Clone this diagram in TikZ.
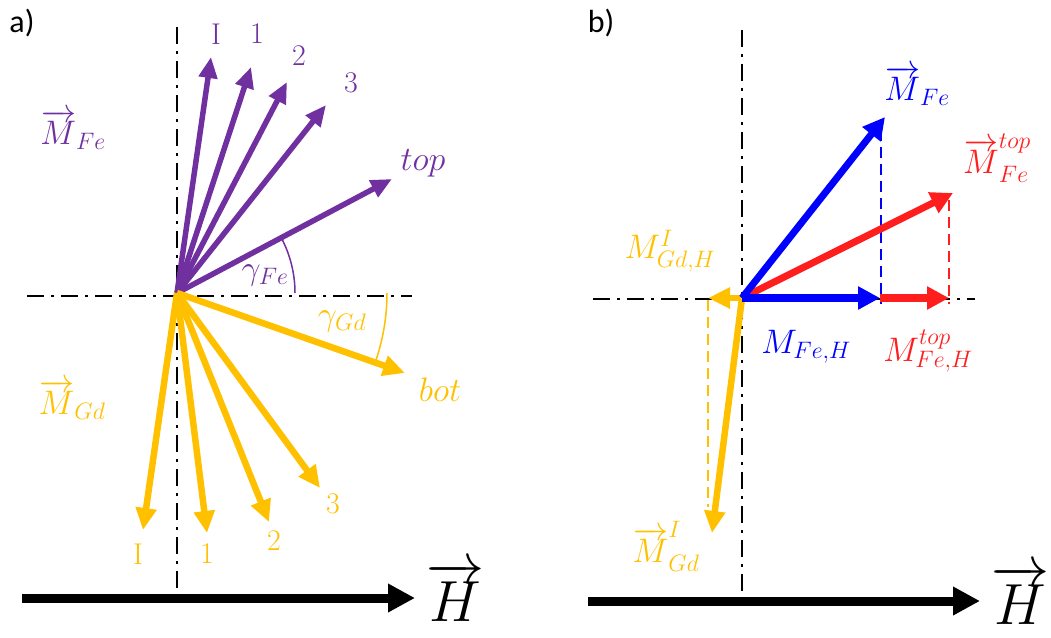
\documentclass[tikz,border=0pt]{standalone}
\usepackage{fix-cm}
\usepackage{fontspec}
\newfontfamily\panelfont{Carlito}
\usetikzlibrary{arrows.meta}
\definecolor{fepurple}{RGB}{112,48,160}
\definecolor{gdyellow}{RGB}{255,192,0}
\definecolor{feblue}{RGB}{0,0,255}
\definecolor{fered}{RGB}{255,30,30}
\begin{document}
\begin{tikzpicture}[x=1pt, y=-1pt,
  axisline/.style={line width=2.5pt, dash pattern=on 17pt off 7pt on 3pt off 7pt},
  field/.style={line width=9pt, -{Triangle[length=27pt,width=27pt]}},
  vecfe/.style={fepurple, line width=5.5pt, -{Triangle[length=21pt,width=18pt]}},
  vecgd/.style={gdyellow, line width=6.5pt, -{Triangle[length=22pt,width=20pt]}},
  vecb/.style={line width=7pt, -{Triangle[length=22pt,width=22pt]}},
  proj/.style={line width=2.5pt, dash pattern=on 11pt off 6pt},
  angarc/.style={line width=1.5pt},
  lbl/.style={font=\fontsize{34}{40}\selectfont},
  num/.style={font=\fontsize{30}{36}\selectfont},
  panel/.style={font=\panelfont\fontsize{32}{38}\selectfont}
]
  \useasboundingbox (0,0) rectangle (1051,637);

  % ---------- panel a ----------
  \node[panel] (pa) at (22,23) {a)};
  \coordinate (Oa) at (177,293);
  \coordinate (aT) at (177,27);
  \coordinate (aB) at (177,597);
  \coordinate (aL) at (27,296);
  \coordinate (aR) at (412,296);
  \draw[axisline] (aT) -- (aB);
  \draw[axisline] (aL) -- (aR);

  % Fe moments
  \foreach \n/\x/\y in {I/211/57, 1/251/67, 2/287/82, 3/326/105, top/392/179}
    \coordinate (fe\n) at (\x,\y);
  \foreach \n in {I,1,2,3,top}
    \draw[vecfe] (Oa) -- (fe\n);
  \draw[fepurple, angarc] (Oa) ++(0:118) arc[start angle=0, end angle=-27.9, radius=118];

  % Gd moments
  \foreach \n/\x/\y in {I/143/530, 1/207/533, 2/269/522, 3/320/488, bot/405/373}
    \coordinate (gd\n) at (\x,\y);
  \foreach \n in {I,1,2,3,bot}
    \draw[vecgd] (Oa) -- (gd\n);
  \draw[gdyellow, angarc] (Oa) ++(0:210) arc[start angle=0, end angle=19.3, radius=210];

  % labels
  \node[lbl, text=fepurple] (lmfe) at (73,130) {$\overrightarrow{M}_{Fe}$};
  \node[num, text=fepurple] (lfeI) at (216,34) {I};
  \node[num, text=fepurple] (lfe1) at (257,34) {1};
  \node[num, text=fepurple] (lfe2) at (299,56) {2};
  \node[num, text=fepurple] (lfe3) at (351,83) {3};
  \node[lbl, text=fepurple] (lfetop) at (423,163) {$top$};
  \node[lbl, text=fepurple] (lgfe) at (265,275) {$\gamma_{Fe}$};
  \node[lbl, text=gdyellow] (lggd) at (342,321) {$\gamma_{Gd}$};
  \node[lbl, text=gdyellow] (lgdbot) at (440,390) {$bot$};
  \node[lbl, text=gdyellow] (lmgd) at (72,400) {$\overrightarrow{M}_{Gd}$};
  \node[num, text=gdyellow] (lgd3) at (333,504) {3};
  \node[num, text=gdyellow] (lgd2) at (274,541) {2};
  \node[num, text=gdyellow] (lgd1) at (207,554) {1};
  \node[num, text=gdyellow] (lgdI) at (138,554) {I};

  % field axis
  \coordinate (haL) at (22,598);
  \coordinate (haR) at (415,598);
  \draw[field] (haL) -- (haR);
  \node[font=\fontsize{58}{64}\selectfont] (lha) at (455,592) {$\overrightarrow{H}$};

  % ---------- panel b ----------
  \node[panel] (pb) at (601,23) {b)};
  \coordinate (Ob) at (742,298);
  \coordinate (bT) at (742,30);
  \coordinate (bB) at (742,600);
  \coordinate (bL) at (593,299);
  \coordinate (bR) at (975,299);
  \draw[axisline] (bT) -- (bB);
  \draw[axisline] (bL) -- (bR);

  \coordinate (mfe) at (885,117);
  \coordinate (mfeh) at (880,298);
  \coordinate (mfetop) at (953,193);
  \coordinate (mfetoph) at (949,298);
  \coordinate (mgdh) at (708,298);
  \coordinate (mgd) at (712,533);
  \coordinate (pfe) at (881,130);
  \coordinate (pfeh) at (881,304);
  \coordinate (pfetop) at (949,200);
  \coordinate (pfetoph) at (949,304);
  \coordinate (pgd) at (708,300);
  \coordinate (pgdv) at (708,507);

  % projections
  \draw[proj, feblue] (pfe) -- (pfeh);
  \draw[proj, fered] (pfetop) -- (pfetoph);
  \draw[proj, gdyellow] (pgd) -- (pgdv);

  % moments
  \draw[vecgd] (Ob) -- (mgd);
  \draw[vecgd] (Ob) -- (mgdh);
  \draw[vecb, fered] (Ob) -- (mfetop);
  \draw[vecb, fered, line width=8pt] (mfeh) -- (mfetoph);
  \draw[vecb, feblue] (Ob) -- (mfe);
  \draw[vecb, feblue, line width=8pt] (Ob) -- (mfeh);

  % labels
  \node[lbl, text=feblue] (lbmfe) at (917,86) {$\overrightarrow{M}_{Fe}$};
  \node[lbl, text=fered] (lbmfetop) at (997,158) {$\overrightarrow{M}^{top}_{Fe}$};
  \node[lbl, text=gdyellow] (lbmgdh) at (670,251) {$M^{I}_{Gd,H}$};
  \node[lbl, text=feblue] (lbmfeh) at (806,347) {$M_{Fe,H}$};
  \node[lbl, text=fered] (lbmfetoph) at (928,351) {$M^{top}_{Fe,H}$};
  \node[lbl, text=gdyellow] (lbmgd) at (666,546) {$\overrightarrow{M}^{I}_{Gd}$};

  % field axis
  \coordinate (hbL) at (588,601);
  \coordinate (hbR) at (980,601);
  \draw[field] (hbL) -- (hbR);
  \node[font=\fontsize{58}{64}\selectfont] (lhb) at (1020,595) {$\overrightarrow{H}$};
\end{tikzpicture}
\end{document}
